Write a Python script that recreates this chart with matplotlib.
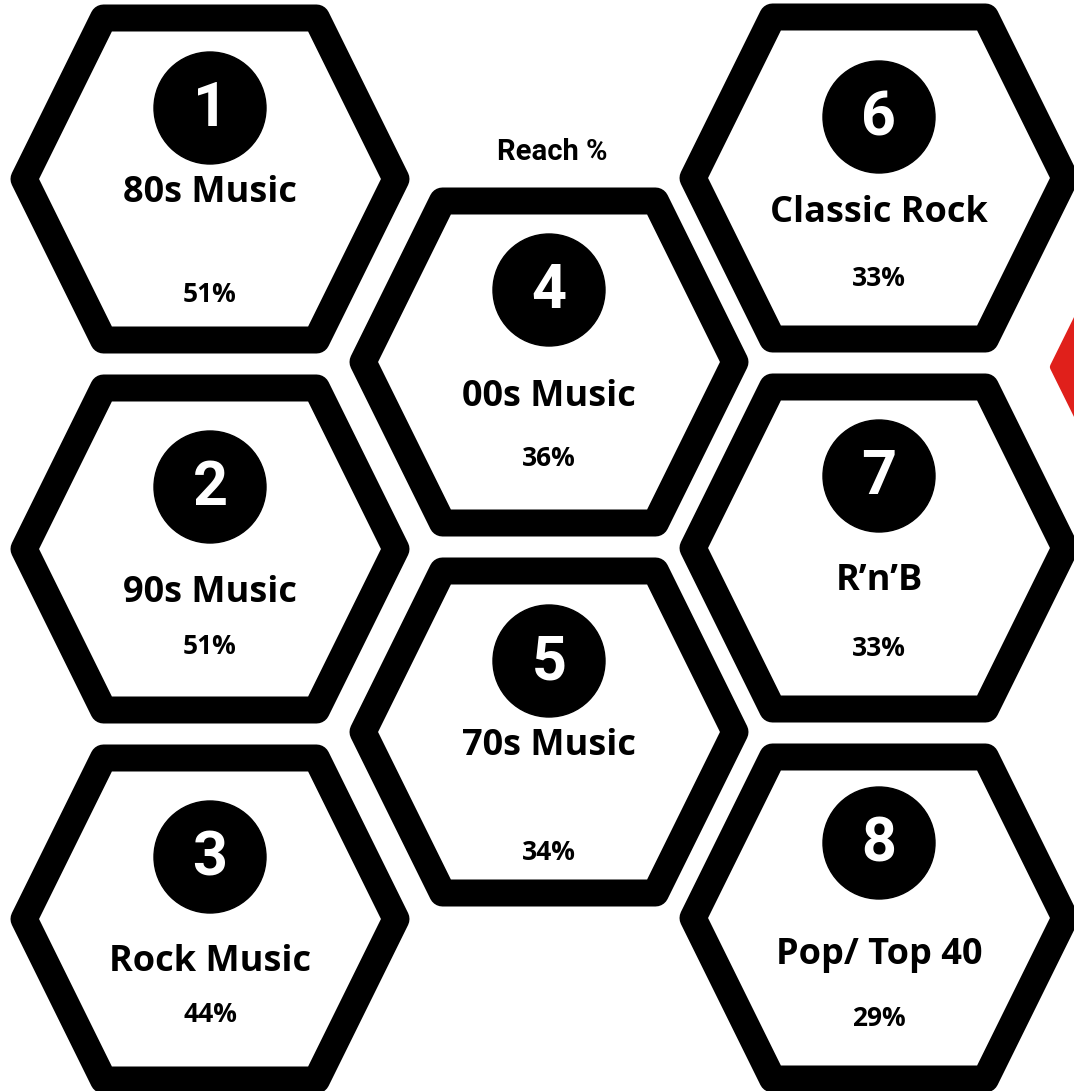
import matplotlib
matplotlib.use("Agg")
import matplotlib.pyplot as plt
from matplotlib.patches import Polygon, Circle

# genre reach, ranked
ranks = [1, 2, 3, 4, 5, 6, 7, 8]
genres = ["80s Music", "90s Music", "Rock Music", "00s Music",
          "70s Music", "Classic Rock", "R\u2019n\u2019B", "Pop/ Top 40"]
reach = [51, 51, 44, 36, 34, 33, 33, 29]

# honeycomb slot for each rank: (column, row)
slots = [(0, 0), (0, 1), (0, 2), (1, 0), (1, 1), (2, 0), (2, 1), (2, 2)]

# layout in pixels
W, H = 1074, 1091
col_x = [210, 549, 879]
col_y0 = [179, 362, 178]
row_step = 370
HALF_W, HALF_TOP, HALF_H = 186, 106.5, 161
LW = 27 * 0.72

# per-cell tweaks of badge / name / value heights
badge_dy = [-71, -62, -62, -72, -71, -61, -72, -75]
name_dy = [14, 44, 43, 35, 14, 35, 33, 37]
pct_dy = [116, 97, 95, 96, 120, 100, 100, 100]


def hex_pts(cx, cy):
    return [(cx - HALF_W, cy), (cx - HALF_TOP, cy - HALF_H),
            (cx + HALF_TOP, cy - HALF_H), (cx + HALF_W, cy),
            (cx + HALF_TOP, cy + HALF_H), (cx - HALF_TOP, cy + HALF_H)]


fig = plt.figure(figsize=(W / 100, H / 100), dpi=100)
ax = fig.add_axes([0, 0, 1, 1])
ax.set_xlim(0, W)
ax.set_ylim(H, 0)
ax.axis("off")

for i, (col, row) in enumerate(slots):
    cx = col_x[col]
    cy = col_y0[col] + row * row_step
    ax.add_patch(Polygon(hex_pts(cx, cy), closed=True, facecolor="white",
                         edgecolor="black", lw=LW, joinstyle="round"))
    ax.add_patch(Circle((cx, cy + badge_dy[i]), 56, color="black"))
    ax.text(cx, cy + badge_dy[i] + 1, str(ranks[i]), color="white",
            ha="center", va="center", fontsize=44, fontweight="bold",
            family="Roboto")
    ax.text(cx, cy + name_dy[i], genres[i], ha="center", va="center",
            fontsize=26, fontweight="bold", family="Open Sans")
    ax.text(cx, cy + pct_dy[i], f"{reach[i]}%", ha="center", va="center",
            fontsize=19, fontweight="bold", family="Open Sans")

ax.text(552, 152, "Reach %", ha="center", va="center", fontsize=21,
        fontweight="bold", family="Roboto")

# red hexagon peeking in from the right edge
ax.add_patch(Polygon(hex_pts(1054 + 186, 367), closed=True,
                     facecolor="#E0201B", edgecolor="#E0201B", lw=6,
                     joinstyle="round"))

fig.savefig("out.png", dpi=100)
